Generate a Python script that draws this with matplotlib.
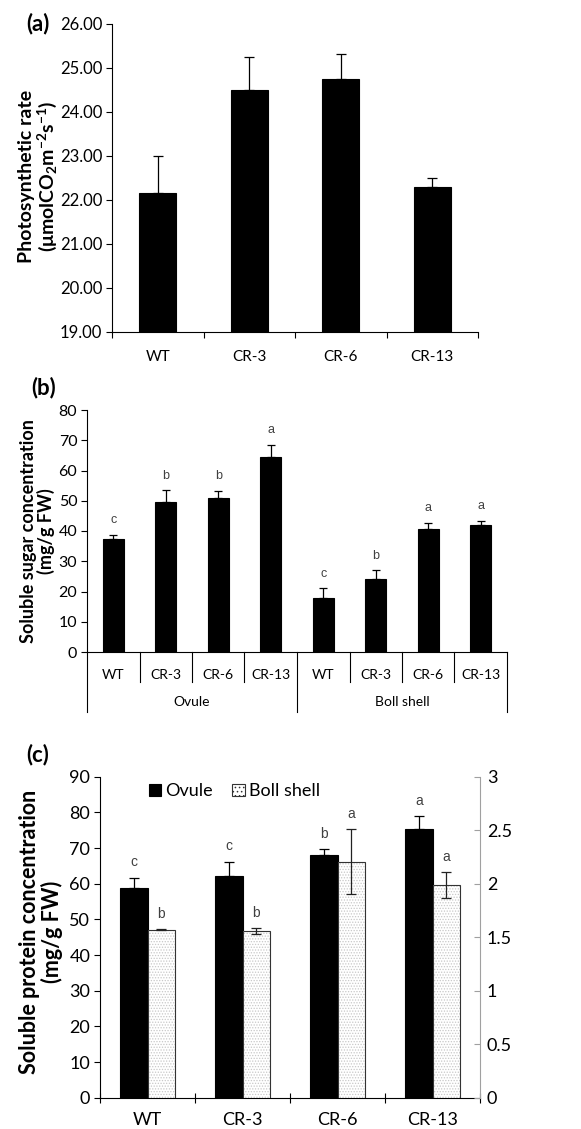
import matplotlib
matplotlib.use("Agg")
import matplotlib.pyplot as plt
import numpy as np
from matplotlib.patches import Patch

plt.rcParams['font.family'] = ['Lato', 'DejaVu Sans']
plt.rcParams['mathtext.fontset'] = 'custom'
plt.rcParams['mathtext.rm'] = 'Lato:bold'
plt.rcParams['mathtext.it'] = 'Lato:bold'
plt.rcParams['mathtext.bf'] = 'Lato:bold'
plt.rcParams['hatch.linewidth'] = 0.6

# ---------------- data ----------------
lines = ['WT', 'CR-3', 'CR-6', 'CR-13']

# (a) photosynthetic rate
photo_mean = [22.15, 24.50, 24.75, 22.30]
photo_err = [0.85, 0.75, 0.57, 0.20]

# (b) soluble sugar
tissues = ['Ovule', 'Boll shell']
sugar_ovule = [37.5, 49.7, 50.8, 64.5]
sugar_ovule_err = [1.2, 3.8, 2.5, 4.0]
sugar_boll = [18.0, 24.0, 40.7, 42.0]
sugar_boll_err = [3.0, 3.0, 2.0, 1.3]
sugar_ovule_letters = ['c', 'b', 'b', 'a']
sugar_boll_letters = ['c', 'b', 'a', 'a']

# (c) soluble protein (ovule on left axis, boll shell on right axis)
prot_ovule = [58.8, 62.2, 68.0, 75.3]
prot_ovule_err = [2.9, 4.0, 1.7, 3.7]
prot_boll = [1.570, 1.557, 2.207, 1.990]
prot_boll_err = [0.005, 0.030, 0.300, 0.120]
prot_ovule_letters = ['c', 'c', 'b', 'a']
prot_boll_letters = ['b', 'b', 'a', 'a']

W, H = 581, 1129
fig = plt.figure(figsize=(W / 100, H / 100), dpi=100)


def rect(l, r, t, b):
    return [l / W, 1 - b / H, (r - l) / W, (b - t) / H]


letter_font = dict(family=['Liberation Sans', 'DejaVu Sans'], color='#404040')

# ---------------- (a) ----------------
axa = fig.add_axes(rect(112, 478, 24, 332))
xa = np.arange(len(lines))
axa.bar(xa, photo_mean, width=0.40, color='black', edgecolor='black', linewidth=0.8)
axa.errorbar(xa, photo_mean, yerr=[np.zeros(len(photo_err)), photo_err], fmt='none',
             ecolor='black', elinewidth=0.9, capsize=3.5, capthick=0.9)
axa.set_ylim(19, 26)
axa.set_xlim(-0.5, len(lines) - 0.5)
axa.set_yticks(np.arange(19, 26.01, 1))
axa.set_yticklabels([f'{v:.2f}' for v in np.arange(19, 26.01, 1)], fontsize=12)
axa.set_xticks(xa)
axa.set_xticklabels(lines, fontsize=11)
axa.tick_params(axis='x', length=0, pad=13)
axa.set_xticks(np.arange(-0.5, len(lines), 1), minor=True)
axa.tick_params(axis='x', which='minor', length=4, width=0.8, direction='out')
axa.tick_params(axis='y', length=4, width=0.8, direction='out', pad=3)
for s in ['top', 'right']:
    axa.spines[s].set_visible(False)
for s in ['left', 'bottom']:
    axa.spines[s].set_linewidth(0.8)
fig.text(38.5 / W, 1 - 176 / H,
         'Photosynthetic rate\n(μmolCO$_2$m$^{-2}$s$^{-1}$)',
         rotation=90, ha='center', va='center', fontsize=14, fontweight='bold',
         multialignment='center', linespacing=1.0)
fig.text(26 / W, 1 - 24 / H, '(a)', fontsize=16, fontweight='bold', ha='left', va='center')

# ---------------- (b) ----------------
axb = fig.add_axes(rect(87, 507, 410, 652))
n = len(lines)
sugar_vals = sugar_ovule + sugar_boll
sugar_errs = sugar_ovule_err + sugar_boll_err
sugar_letters = sugar_ovule_letters + sugar_boll_letters
xb = np.arange(2 * n)
axb.bar(xb, sugar_vals, width=0.40, color='black', edgecolor='black', linewidth=0.8)
axb.errorbar(xb, sugar_vals, yerr=[np.zeros(2 * n), sugar_errs], fmt='none',
             ecolor='black', elinewidth=0.9, capsize=3.0, capthick=0.9)
for x, v, e, l in zip(xb, sugar_vals, sugar_errs, sugar_letters):
    axb.annotate(l, (x, v + e), xytext=(0, 10.5), textcoords='offset points',
                 ha='center', va='center', fontsize=9, **letter_font)
axb.set_ylim(0, 80)
axb.set_xlim(-0.5, 2 * n - 0.5)
axb.set_yticks(np.arange(0, 81, 10))
axb.tick_params(axis='y', labelsize=11.5, length=4, width=0.8, direction='out', pad=3)
axb.set_xticks(xb)
axb.set_xticklabels(lines + lines, fontsize=10)
axb.tick_params(axis='x', length=0, pad=12)
for s in ['top', 'right']:
    axb.spines[s].set_visible(False)
for s in ['left', 'bottom']:
    axb.spines[s].set_linewidth(0.8)
trb = axb.get_xaxis_transform()
for k in range(2 * n + 1):
    xs = k - 0.5
    if k % n == 0:
        axb.plot([xs, xs], [0, -0.248], transform=trb, color='black', lw=0.8, clip_on=False)
    else:
        axb.plot([xs, xs], [0, -0.124], transform=trb, color='black', lw=0.8, clip_on=False)
for g, t in enumerate(tissues):
    axb.text(g * n + (n - 1) / 2, -0.207, t, transform=trb, ha='center', va='center', fontsize=10)
fig.text(37.5 / W, 1 - 531 / H, 'Soluble sugar concentration\n(mg/g FW)',
         rotation=90, ha='center', va='center', fontsize=13, fontweight='bold',
         multialignment='center', linespacing=1.0)
fig.text(31 / W, 1 - 388 / H, '(b)', fontsize=16, fontweight='bold', ha='left', va='center')

# ---------------- (c) ----------------
axc = fig.add_axes(rect(100, 480, 776.7, 1097.7))
axc2 = axc.twinx()
xc = np.arange(n)
bw = 0.285
axc.bar(xc - bw / 2, prot_ovule, width=bw, color='black', edgecolor='black',
        linewidth=0.8, label='Ovule')
axc.errorbar(xc - bw / 2, prot_ovule, yerr=[np.zeros(n), prot_ovule_err], fmt='none',
             ecolor='black', elinewidth=0.9, capsize=3.5, capthick=0.9)
axc2.bar(xc + bw / 2, prot_boll, width=bw, color='white', edgecolor='#c8c8c8',
         hatch='......', linewidth=0)
axc2.bar(xc + bw / 2, prot_boll, width=bw, color='none', edgecolor='#333333', linewidth=0.8)
axc2.errorbar(xc + bw / 2, prot_boll, yerr=prot_boll_err, fmt='none',
              ecolor='#222222', elinewidth=0.9, capsize=3.5, capthick=0.9)
for x, v, e, l in zip(xc - bw / 2, prot_ovule, prot_ovule_err, prot_ovule_letters):
    axc.annotate(l, (x, v + e), xytext=(0, 11), textcoords='offset points',
                 ha='center', va='center', fontsize=10, **letter_font)
for x, v, e, l in zip(xc + bw / 2, prot_boll, prot_boll_err, prot_boll_letters):
    axc2.annotate(l, (x, v + e), xytext=(0, 11), textcoords='offset points',
                  ha='center', va='center', fontsize=10, **letter_font)
axc.set_ylim(0, 90)
axc2.set_ylim(0, 3)
axc.set_xlim(-0.5, n - 0.5)
axc.set_yticks(np.arange(0, 91, 10))
axc.tick_params(axis='y', labelsize=13, length=4, width=0.8, direction='out', pad=3)
axc2.set_yticks(np.arange(0, 3.01, 0.5))
axc2.set_yticklabels(['0', '0.5', '1', '1.5', '2', '2.5', '3'])
axc2.tick_params(axis='y', labelsize=13, length=4, width=0.8, direction='in',
                 color='#a0a0a0', pad=5)
axc.set_xticks(xc)
axc.set_xticklabels(lines, fontsize=13)
axc.tick_params(axis='x', length=0, pad=10)
axc.set_xticks(np.arange(-0.5, n, 1), minor=True)
axc.tick_params(axis='x', which='minor', length=7, width=0.8, direction='inout')
for a in (axc, axc2):
    a.spines['top'].set_visible(False)
axc.spines['right'].set_visible(False)
axc2.spines['left'].set_visible(False)
axc2.spines['bottom'].set_visible(False)
axc2.spines['right'].set_color('#a0a0a0')
axc2.spines['right'].set_linewidth(0.8)
for s in ['left', 'bottom']:
    axc.spines[s].set_linewidth(0.8)
h1, l1 = axc.get_legend_handles_labels()
boll_handle = Patch(facecolor='white', edgecolor='#333333', hatch='....', linewidth=0.8)
axc.legend([h1[0], boll_handle], ['Ovule', 'Boll shell'], loc='upper left',
           bbox_to_anchor=(0.085, 1.03), ncol=2, frameon=False, fontsize=13,
           handlelength=0.7, handleheight=0.7, handletextpad=0.2, columnspacing=1.1)
fig.text(41 / W, 1 - 932 / H, 'Soluble protein concentration\n(mg/g FW)',
         rotation=90, ha='center', va='center', fontsize=15.5, fontweight='bold',
         multialignment='center', linespacing=1.0)
fig.text(26 / W, 1 - 755 / H, '(c)', fontsize=16, fontweight='bold', ha='left', va='center')

fig.savefig('out.png', dpi=100)
